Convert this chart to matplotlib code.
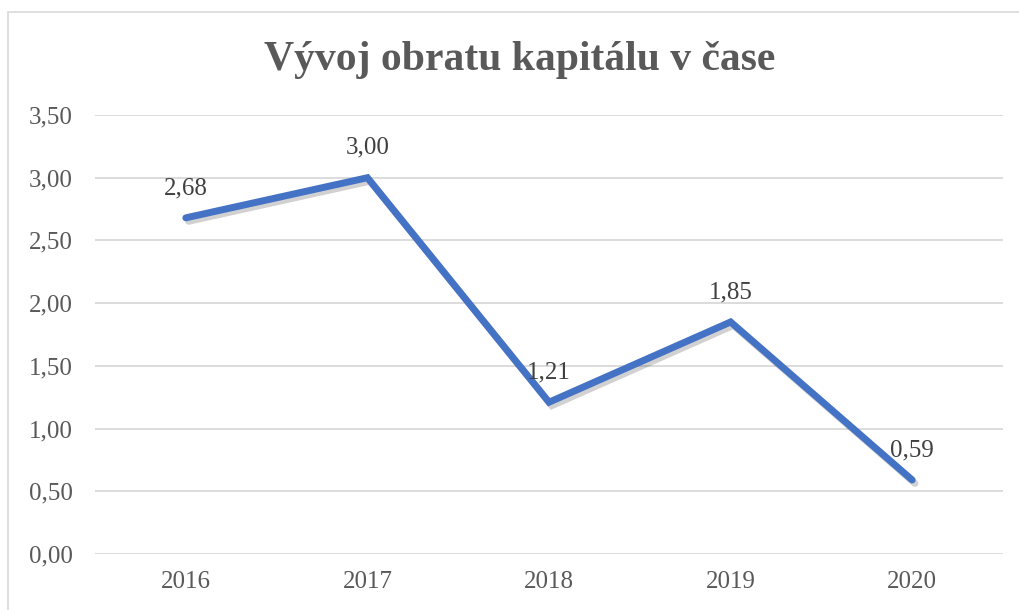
import matplotlib
matplotlib.use("Agg")
import matplotlib.pyplot as plt
import matplotlib.patheffects as pe
from matplotlib.patches import Rectangle

# data
years = ["2016", "2017", "2018", "2019", "2020"]
obrat = [2.68, 3.00, 1.21, 1.85, 0.59]
y_ticks = [0.0, 0.5, 1.0, 1.5, 2.0, 2.5, 3.0, 3.5]

plt.rcParams['font.family'] = ['Liberation Serif', 'DejaVu Serif']

fig = plt.figure(figsize=(10.2, 6.1), dpi=100)
ax = fig.add_axes([95/1020, 1-554/610, 908/1020, 439/610])

# chart border
fig.patches.append(Rectangle((8/1020, -0.05), 1.2, 1-12/610+0.05, transform=fig.transFigure,
                             fill=False, edgecolor='#d9d9d9', linewidth=1.2))

x = range(len(years))
ax.plot(x, obrat, color='#4472C4', linewidth=5, solid_capstyle='round', solid_joinstyle='miter',
        path_effects=[pe.SimpleLineShadow(offset=(2, -2.5), shadow_color='#000000', alpha=0.18),
                      pe.Normal()], zorder=3)

for i, v in enumerate(obrat):
    ax.annotate(f"{v:.2f}".replace('.', ','), (i, v), xytext=(0, 21.5), textcoords='offset points',
                ha='center', va='center', fontsize=18, color='#404040', zorder=4)

ax.set_xlim(-0.5, len(years) - 0.5)
ax.set_ylim(0, 3.5)
ax.set_xticks(list(x))
ax.set_xticklabels(years)
ax.set_yticks(y_ticks)
ax.set_yticklabels([f"{t:.2f}".replace('.', ',') for t in y_ticks])
ax.tick_params(length=0, labelsize=18, labelcolor='#595959')
ax.tick_params(axis='x', pad=12)
ax.tick_params(axis='y', pad=16)
ax.grid(axis='y', color='#d9d9d9', linewidth=1.3)
ax.set_axisbelow(True)
for s in ax.spines.values():
    s.set_visible(False)

fig.text(520/1020, 1-60/610, "Vývoj obratu kapitálu v čase", ha='center', va='center',
         fontsize=30, fontweight='bold', color='#595959')

fig.savefig("out.png", dpi=100)
